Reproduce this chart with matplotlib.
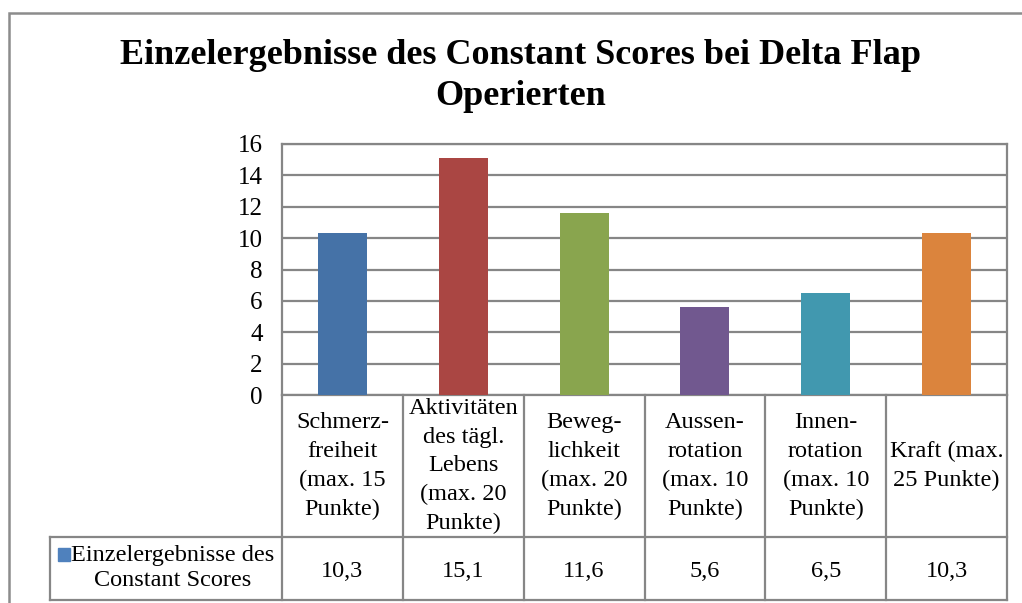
import matplotlib
matplotlib.use("Agg")
import matplotlib.pyplot as plt
from matplotlib.patches import Rectangle
from matplotlib.lines import Line2D

# ── Data ──────────────────────────────────────────────────────────────────────
categories = [
    "Schmerz-\nfreiheit\n(max. 15\nPunkte)",
    "Aktivitäten\ndes tägl.\nLebens\n(max. 20\nPunkte)",
    "Beweg-\nlichkeit\n(max. 20\nPunkte)",
    "Aussen-\nrotation\n(max. 10\nPunkte)",
    "Innen-\nrotation\n(max. 10\nPunkte)",
    "Kraft (max.\n25 Punkte)",
]
values = [10.3, 15.1, 11.6, 5.6, 6.5, 10.3]
value_labels = ["10,3", "15,1", "11,6", "5,6", "6,5", "10,3"]
series_name = "Einzelergebnisse des\nConstant Scores"
colors = ["#4572A7", "#AA4643", "#89A54E", "#71588F", "#4198AF", "#DB843D"]
yticks = [0, 2, 4, 6, 8, 10, 12, 14, 16]

plt.rcParams["font.family"] = ["Liberation Serif", "DejaVu Serif"]

W, H = 1022, 603
fig = plt.figure(figsize=(W / 100, H / 100), dpi=100)
GRID = "#868686"
FS = 17.5

# chart border (cropped on right / bottom in the original)
fig.patches.append(Rectangle((9 / W, -0.1), 1.2, 1 - 13 / H + 0.1,
                             transform=fig.transFigure, fill=False,
                             edgecolor="#8C8C8C", lw=1.8))

fig.text(0.509, 1 - 76 / H, "Einzelergebnisse des Constant Scores bei Delta Flap\nOperierten",
         ha="center", va="center", fontsize=26, fontweight="bold", linespacing=1.3)

# ── Plot area ─────────────────────────────────────────────────────────────────
x0, x1, y_top, y_bot = 282, 1007, 144, 395
ax = fig.add_axes([x0 / W, 1 - y_bot / H, (x1 - x0) / W, (y_bot - y_top) / H])
n = len(values)
xs = range(n)
ax.bar(xs, values, width=0.405, color=colors, zorder=3)
ax.set_xlim(-0.5, n - 0.5)
ax.set_ylim(0, 16)
ax.set_yticks(yticks)
ax.set_yticklabels([str(t) for t in yticks], fontsize=18)
ax.set_xticks([])
ax.tick_params(axis="y", length=0, pad=14)
ax.grid(axis="y", color=GRID, lw=1.6, zorder=0)
for s in ax.spines.values():
    s.set_color(GRID)
    s.set_linewidth(1.6)

# ── Data table below the axis ─────────────────────────────────────────────────
ph = y_bot - y_top
hdr_b = -(537 - y_bot) / ph
tab_b = -(600 - y_bot) / ph
leg_l = -0.5 + (50 - x0) / ((x1 - x0) / n)
tr = ax.get_xaxis_transform()

def line(xa, ya):
    ax.add_line(Line2D(xa, ya, transform=tr, color=GRID, lw=1.6, clip_on=False))

for k in range(n + 1):
    line([k - 0.5, k - 0.5], [0, tab_b])
line([leg_l, n - 0.5], [hdr_b, hdr_b])
line([leg_l, n - 0.5], [tab_b, tab_b])
line([leg_l, leg_l], [hdr_b, tab_b])

for i, (cat, lab) in enumerate(zip(categories, value_labels)):
    ax.text(i, hdr_b / 2, cat, transform=tr, ha="center", va="center",
            fontsize=FS, linespacing=1.48)
    ax.text(i, (hdr_b + tab_b) / 2 - 0.01, lab, transform=tr, ha="center", va="center",
            fontsize=FS)

# legend key + series name in first table cell
ax.add_patch(Rectangle((leg_l + 0.066, hdr_b - 0.095), 0.1, 0.05, transform=tr,
                       color="#4F81BD", clip_on=False))
ax.text((leg_l - 0.5) / 2 + 0.055, (hdr_b + tab_b) / 2, series_name, transform=tr,
        ha="center", va="center", fontsize=FS, linespacing=1.25)

fig.savefig("out.png", dpi=100)
